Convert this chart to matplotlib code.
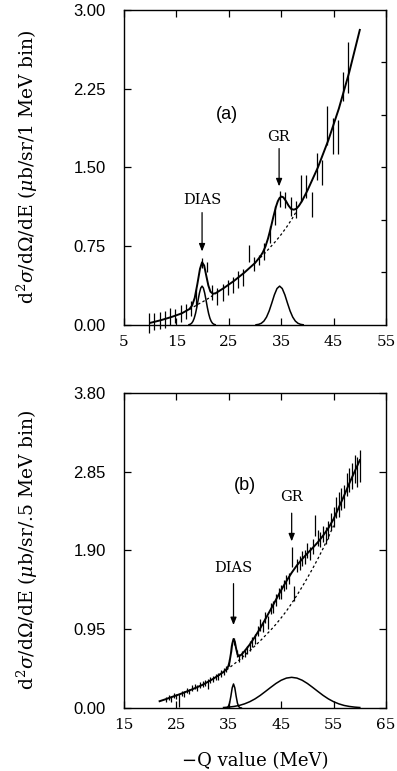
import numpy as np
import matplotlib
matplotlib.use('Agg')
import matplotlib.pyplot as plt

plt.rcParams['mathtext.fontset'] = 'dejavuserif'
SERIF = 'DejaVu Serif'
SANS = 'Liberation Sans'

# ---------------- panel (a): 1 MeV bins ----------------
top_E = np.arange(9.8, 48.3, 1.0)
top_val = [0.015, 0.03, 0.045, 0.05, 0.08, 0.085, 0.11, 0.13, 0.16, 0.26,
           0.59, 0.55, 0.31, 0.27, 0.31, 0.36, 0.38, 0.43, 0.45, 0.68,
           0.58, 0.62, 0.70, 0.86, 1.04, 1.20, 1.19, 1.13, 1.10, 1.30,
           1.32, 1.15, 1.51, 1.45, 1.90, 1.80, 1.79, 2.27, 2.45]
top_err = [0.095, 0.08, 0.08, 0.08, 0.08, 0.07, 0.08, 0.07, 0.07, 0.08,
           0.05, 0.05, 0.07, 0.08, 0.08, 0.07, 0.08, 0.08, 0.08, 0.08,
           0.07, 0.05, 0.08, 0.08, 0.09, 0.08, 0.08, 0.09, 0.08, 0.13,
           0.11, 0.12, 0.13, 0.12, 0.19, 0.17, 0.16, 0.14, 0.24]

# total fit
top_fit_E = [10, 12, 14, 16, 17, 17.5, 18, 18.5, 19, 19.5, 19.9, 20.3, 20.7,
             21.1, 21.5, 22, 22.5, 24, 26, 28, 30, 31, 31.5, 32, 32.5, 33,
             33.5, 34, 34.35, 34.7, 35.05, 35.4, 35.9, 36.4, 36.9, 37.4,
             37.9, 38.4, 39, 40, 42, 44, 46, 48, 50]
top_fit = [0.02, 0.045, 0.075, 0.11, 0.138, 0.152, 0.186, 0.258, 0.389,
           0.534, 0.597, 0.566, 0.47, 0.376, 0.317, 0.297, 0.303, 0.35,
           0.42, 0.50, 0.59, 0.651, 0.692, 0.748, 0.826, 0.922, 1.029,
           1.126, 1.178, 1.21, 1.223, 1.216, 1.181, 1.137, 1.105, 1.098,
           1.107, 1.136, 1.183, 1.28, 1.50, 1.76, 2.06, 2.41, 2.81]

# background under the peaks (dashed)
top_bg1_E = [17.5, 18, 18.5, 19, 19.5, 20, 20.5, 21, 21.5, 22, 22.5]
top_bg1 = [0.148, 0.164, 0.178, 0.193, 0.207, 0.22, 0.235, 0.25, 0.265,
           0.284, 0.30]
top_bg2_E = [31, 32, 33, 34, 35, 36, 37, 38]
top_bg2 = [0.64, 0.69, 0.745, 0.80, 0.862, 0.93, 1.005, 1.09]

# peak components
top_dias_E = [17.4, 17.65, 17.9, 18.15, 18.4, 18.65, 18.9, 19.15, 19.4,
              19.65, 19.9, 20.15, 20.4, 20.65, 20.9, 21.15, 21.4, 21.65,
              21.9, 22.15, 22.4]
top_dias = [0.003, 0.007, 0.016, 0.034, 0.064, 0.109, 0.169, 0.239, 0.304,
            0.352, 0.37, 0.352, 0.304, 0.239, 0.169, 0.109, 0.064, 0.034,
            0.016, 0.007, 0.003]
top_gr_E = [30.2, 30.7, 31.2, 31.7, 32.2, 32.7, 33.2, 33.7, 34.2, 34.7,
            35.2, 35.7, 36.2, 36.7, 37.2, 37.7, 38.2, 38.7, 39.2]
top_gr = [0.002, 0.006, 0.016, 0.037, 0.075, 0.133, 0.208, 0.287, 0.347,
          0.37, 0.347, 0.287, 0.208, 0.133, 0.075, 0.037, 0.016, 0.006,
          0.002]

# ---------------- panel (b): 0.5 MeV bins ----------------
bot_E = np.arange(23.0, 60.25, 0.5)
bot_val = [0.10, 0.13, 0.11, 0.15, 0.14, 0.09, 0.18, 0.17, 0.21, 0.20,
           0.24, 0.26, 0.24, 0.28, 0.29, 0.30, 0.29, 0.34, 0.35, 0.37,
           0.38, 0.42, 0.44, 0.47, 0.55, 0.72, 0.80, 0.66, 0.60, 0.64,
           0.66, 0.70, 0.75, 0.80, 0.83, 0.93, 1.00, 0.98, 1.09, 1.03,
           1.20, 1.22, 1.30, 1.38, 1.40, 1.48, 1.52, 1.56, 1.82, 1.38,
           1.72, 1.75, 1.80, 1.82, 1.90, 1.86, 1.95, 2.20, 2.05, 2.03,
           2.10, 2.08, 2.15, 2.25, 2.30, 2.42, 2.45, 2.52, 2.55, 2.70,
           2.75, 2.80, 2.88, 2.85, 2.92]
bot_err = [0.03, 0.03, 0.035, 0.03, 0.035, 0.08, 0.03, 0.035, 0.03, 0.035,
           0.04, 0.035, 0.04, 0.035, 0.04, 0.035, 0.06, 0.04, 0.04, 0.035,
           0.04, 0.04, 0.04, 0.04, 0.04, 0.04, 0.045, 0.045, 0.05, 0.05,
           0.05, 0.05, 0.06, 0.06, 0.06, 0.06, 0.07, 0.06, 0.07, 0.08,
           0.07, 0.07, 0.07, 0.07, 0.08, 0.07, 0.08, 0.07, 0.12, 0.09,
           0.08, 0.08, 0.09, 0.08, 0.09, 0.08, 0.09, 0.13, 0.10, 0.09,
           0.10, 0.10, 0.11, 0.10, 0.12, 0.13, 0.15, 0.13, 0.14, 0.14,
           0.15, 0.16, 0.17, 0.18, 0.19]

bot_fit_E = [21.8, 23, 24, 25, 26, 27, 28, 29, 30, 31, 32, 33, 34, 34.5,
             34.9, 35.15, 35.4, 35.65, 35.9, 36.15, 36.4, 36.65, 36.9, 37.4,
             38, 39, 40, 41, 42, 43, 44, 45, 46, 47, 48, 49, 50, 51, 52, 53,
             54, 55, 56, 57, 58, 59, 60]
bot_fit = [0.082, 0.107, 0.13, 0.152, 0.175, 0.20, 0.225, 0.252, 0.28,
           0.315, 0.351, 0.393, 0.436, 0.464, 0.502, 0.559, 0.656, 0.771,
           0.833, 0.801, 0.717, 0.649, 0.624, 0.643, 0.685, 0.766, 0.86,
           0.962, 1.075, 1.189, 1.306, 1.423, 1.531, 1.632, 1.721, 1.797,
           1.866, 1.931, 2.0, 2.08, 2.17, 2.28, 2.42, 2.56, 2.71, 2.85, 2.99]

bot_bg_E = [33, 34, 35, 36, 37, 38, 39, 40, 41, 42, 43, 44, 45, 46, 47, 48,
            49, 50, 51, 52, 53, 54, 55]
bot_bg = [0.39, 0.43, 0.48, 0.53, 0.58, 0.635, 0.69, 0.75, 0.81, 0.875,
          0.94, 1.01, 1.088, 1.17, 1.262, 1.36, 1.462, 1.57, 1.682, 1.80,
          1.925, 2.06, 2.20]

bot_dias_E = [34.4, 34.65, 34.9, 35.15, 35.4, 35.65, 35.9, 36.15, 36.4,
              36.65, 36.9, 37.15, 37.4]
bot_dias = [0.0, 0.003, 0.017, 0.059, 0.143, 0.243, 0.29, 0.243, 0.143,
            0.059, 0.017, 0.003, 0.0]
bot_gr_E = np.arange(34, 61, 1)
bot_gr = [0.006, 0.011, 0.019, 0.031, 0.050, 0.076, 0.110, 0.152, 0.200,
          0.249, 0.296, 0.335, 0.361, 0.370, 0.361, 0.335, 0.296, 0.249,
          0.200, 0.152, 0.110, 0.076, 0.050, 0.031, 0.019, 0.011, 0.006]


def style(ax, xlim, ylim, xticks, yticks):
    ax.set_xlim(xlim)
    ax.set_ylim(ylim)
    ax.set_xticks(xticks)
    ax.set_xticklabels([str(t) for t in xticks], family=SERIF, fontsize=11)
    ax.set_yticks(yticks)
    ax.set_yticklabels([f'{t:.2f}' for t in yticks], family=SANS, fontsize=12)
    ax.tick_params(direction='in', length=5, width=0.9, top=True)
    ax.tick_params(axis='y', pad=13)
    ax.tick_params(axis='x', pad=7)
    for s in ax.spines.values():
        s.set_linewidth(1.0)


def draw_arrow(ax, x, y0, y1):
    ax.annotate('', xy=(x, y1), xytext=(x, y0),
                arrowprops=dict(arrowstyle='-|>,head_length=0.45,head_width=0.18',
                                lw=0.9, color='k', shrinkA=0, shrinkB=0))


fig = plt.figure(figsize=(3.97, 7.71), dpi=100)
ax1 = fig.add_axes([0.3123, 0.5785, 0.66, 0.4086])
ax2 = fig.add_axes([0.3123, 0.0817, 0.66, 0.4086])

# panel (a)
eb = ax1.errorbar(top_E, top_val, yerr=top_err, fmt='none', ecolor='k', elinewidth=0.9)
eb.lines[2][0].set_clip_on(False)
ax1.plot(top_fit_E, top_fit, color='k', lw=1.4)
ax1.plot(top_bg1_E, top_bg1, color='k', lw=0.9, ls=(0, (2, 2)))
ax1.plot(top_bg2_E, top_bg2, color='k', lw=0.9, ls=(0, (2, 2)))
ax1.plot(top_dias_E, top_dias, color='k', lw=1.1)
ax1.plot(top_gr_E, top_gr, color='k', lw=1.1)
style(ax1, (5, 55), (0, 3.0), [5, 15, 25, 35, 45, 55], [0, 0.75, 1.5, 2.25, 3.0])
ax1.set_ylabel(r'd$^2\sigma$/d$\Omega$/dE ($\mu$b/sr/1 MeV bin)', family=SERIF, fontsize=13.5)
ax1.yaxis.set_label_coords(-0.32, 0.5)
sec = ax1.secondary_yaxis('right')
sec.set_yticks([0.5, 1.0, 1.5, 2.0, 2.5])
sec.set_yticklabels([])
sec.tick_params(direction='in', length=3.5, width=0.9)
ax1.tick_params(right=False)

ax1.text(24.6, 2.0, '(a)', family=SANS, fontsize=13, ha='center', va='center')
ax1.text(19.9, 1.19, 'DIAS', family=SERIF, fontsize=10.5, ha='center', va='center')
draw_arrow(ax1, 19.9, 1.07, 0.70)
ax1.text(34.5, 1.79, 'GR', family=SERIF, fontsize=10.5, ha='center', va='center')
draw_arrow(ax1, 34.6, 1.68, 1.32)

# panel (b)
ax2.errorbar(bot_E, bot_val, yerr=bot_err, fmt='none', ecolor='k', elinewidth=0.9)
ax2.plot(bot_fit_E, bot_fit, color='k', lw=1.4)
ax2.plot(bot_bg_E, bot_bg, color='k', lw=0.9, ls=(0, (2, 2)))
ax2.plot(bot_dias_E, bot_dias, color='k', lw=1.1)
ax2.plot(bot_gr_E, bot_gr, color='k', lw=1.1)
style(ax2, (15, 65), (0, 3.8), [15, 25, 35, 45, 55, 65], [0, 0.95, 1.9, 2.85, 3.8])
ax2.set_ylabel(r'd$^2\sigma$/d$\Omega$/dE ($\mu$b/sr/.5 MeV bin)', family=SERIF, fontsize=13.5)
ax2.yaxis.set_label_coords(-0.32, 0.5)
ax2.tick_params(right=True)
ax2.set_xlabel('\u2212Q value (MeV)', family=SERIF, fontsize=13)
ax2.xaxis.set_label_coords(0.5, -0.14)

ax2.text(38.1, 2.69, '(b)', family=SANS, fontsize=13, ha='center', va='center')
ax2.text(35.9, 1.685, 'DIAS', family=SERIF, fontsize=10.5, ha='center', va='center')
draw_arrow(ax2, 35.9, 1.50, 1.00)
ax2.text(47.0, 2.55, 'GR', family=SERIF, fontsize=10.5, ha='center', va='center')
draw_arrow(ax2, 47.0, 2.35, 2.01)

fig.savefig('out.png', dpi=100)
